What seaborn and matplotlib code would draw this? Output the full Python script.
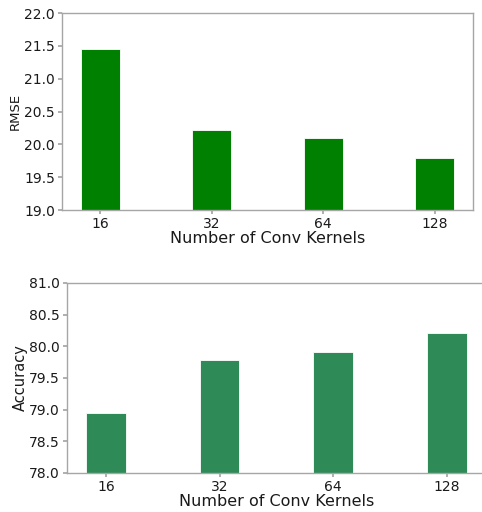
import matplotlib
matplotlib.use("Agg")
import matplotlib.pyplot as plt
import seaborn as sns
import pandas as pd

# Kernel counts and the two metrics measured for each
kernels = ["16", "32", "64", "128"]
rmse = [21.45, 20.22, 20.09, 19.79]
accuracy = [78.94, 79.78, 79.91, 80.21]

sns.set_theme(style="white")
plt.rcParams["font.family"] = ["DejaVu Sans"]
plt.rcParams.update({
    "axes.edgecolor": ".65",
    "axes.linewidth": 1.0,
    "xtick.bottom": True,
    "ytick.left": True,
    "xtick.color": ".65",
    "ytick.color": ".65",
    "xtick.labelcolor": ".1",
    "ytick.labelcolor": ".1",
    "xtick.major.size": 3,
    "ytick.major.size": 3,
    "xtick.major.pad": 2,
    "ytick.major.pad": 2,
})

df_rmse = pd.DataFrame({"kernels": kernels, "RMSE": rmse})
df_acc = pd.DataFrame({"kernels": kernels, "Accuracy": accuracy})

fig = plt.figure(figsize=(4.82, 5.12), dpi=100)
ax1 = fig.add_axes([0.1286, 0.5898, 0.8527, 0.3848])
ax2 = fig.add_axes([0.1390, 0.0762, 0.8690, 0.3711])

sns.barplot(data=df_rmse, x="kernels", y="RMSE", order=kernels,
            color="#008000", saturation=1, width=0.35,
            edgecolor="white", linewidth=0.6, ax=ax1)
sns.barplot(data=df_acc, x="kernels", y="Accuracy", order=kernels,
            color="#2E8B57", saturation=1, width=0.35,
            edgecolor="white", linewidth=0.6, ax=ax2)

ax1.set_ylim(19.0, 22.0)
ax2.set_ylim(78.0, 81.0)
for ax in (ax1, ax2):
    ax.set_xlim(-0.3425, 3.3425)
    ax.tick_params(axis="both", labelsize=10)
    ax.set_xlabel("Number of Conv Kernels", fontsize=11.5, color=".1", labelpad=0)
    for s in ax.spines.values():
        s.set_visible(True)
    ax.yaxis.set_major_formatter(matplotlib.ticker.FormatStrFormatter("%.1f"))

ax1.set_ylabel("RMSE", fontsize=9.5, color=".1", labelpad=2)
ax2.set_ylabel("Accuracy", fontsize=10.5, color=".1", labelpad=1)

fig.savefig("out.png", dpi=100)
